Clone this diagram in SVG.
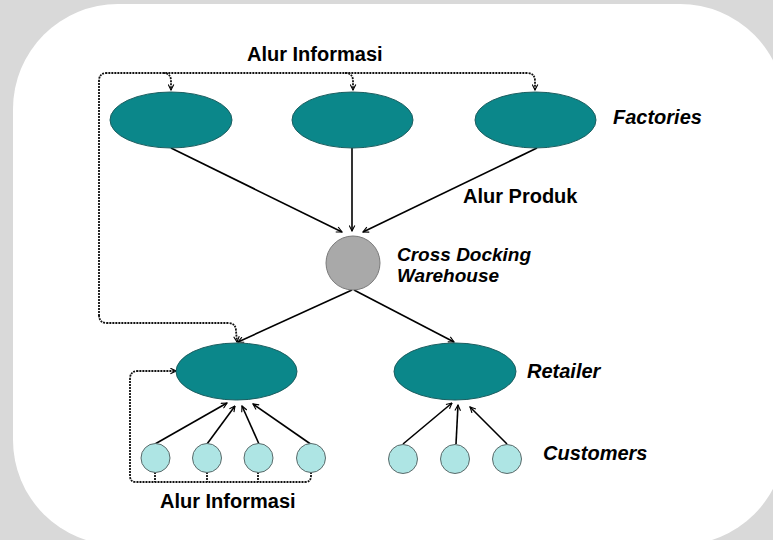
<svg xmlns="http://www.w3.org/2000/svg" width="773" height="540" viewBox="0 0 773 540">
  <defs>
    <marker id="arrow" viewBox="0 0 10 10" refX="9" refY="5" markerWidth="7" markerHeight="7" markerUnits="userSpaceOnUse" orient="auto">
      <path d="M1,1 L9,5 L1,9" fill="none" stroke="#000" stroke-width="1.6"/>
    </marker>
  </defs>
  <style>
    .lbl { font-family: "Liberation Sans", Arial, sans-serif; font-size: 20px; font-weight: bold; fill: #000; }
    .it { font-style: italic; }
    .tight { font-size: 19px; }
    .big { fill: #0b878a; stroke: #1c5e60; stroke-width: 1; }
    .hub { fill: #a9a9a9; stroke: #7a7a7a; stroke-width: 1; }
    .cust { fill: #aee5e4; stroke: #5a6a6a; stroke-width: 1; }
    .flow { fill: none; stroke: #000; stroke-width: 1.6; marker-end: url(#arrow); }
    .info { fill: none; stroke: #111; stroke-width: 1.8; stroke-dasharray: 2 1; }
    .info-a { marker-end: url(#arrow); }
  </style>

  <!-- page background -->
  <rect x="0" y="0" width="773" height="540" fill="#d9d9d9"/>
  <rect x="13" y="4" width="772" height="541" rx="105" ry="105" fill="#fff"/>

  <!-- connectors -->
  <g id="connectors">
    <!-- product flow -->
    <line class="flow" x1="171" y1="148" x2="342" y2="232"/>
    <line class="flow" x1="352" y1="148" x2="352" y2="231"/>
    <line class="flow" x1="537" y1="148" x2="363" y2="232"/>
    <line class="flow" x1="352" y1="290" x2="238" y2="342"/>
    <line class="flow" x1="354" y1="290" x2="454" y2="342"/>
    <!-- customers to retailer A -->
    <line class="flow" x1="155" y1="444" x2="227" y2="403"/>
    <line class="flow" x1="207" y1="444" x2="235" y2="406"/>
    <line class="flow" x1="259" y1="444" x2="242" y2="406"/>
    <line class="flow" x1="312" y1="445" x2="253" y2="404"/>
    <!-- customers to retailer B -->
    <line class="flow" x1="403" y1="444" x2="452" y2="403"/>
    <line class="flow" x1="456" y1="444" x2="458" y2="405"/>
    <line class="flow" x1="507" y1="444" x2="470" y2="407"/>

    <!-- information flow, top loop -->
    <path class="info info-a" d="M99,316 L99,81 Q99,73 107,73 L527,73 Q535,73 535,81 L535,90"/>
    <path class="info info-a" d="M163,73 Q171,73 171,81 L171,90"/>
    <path class="info info-a" d="M345,73 Q353,73 353,81 L353,90"/>
    <path class="info info-a" d="M99,315 Q99,323 107,323 L228,323 Q236,323 236,331 L237,342"/>

    <!-- information flow, bottom loop -->
    <path class="info info-a" d="M311,472 L311,476 Q311,482 305,482 L136,482 Q130,482 130,476 L130,379 Q130,371 138,371 L176,371"/>
    <path class="info" d="M155,472 L155,482"/>
    <path class="info" d="M207,472 L207,482"/>
    <path class="info" d="M258,472 L258,482"/>
  </g>

  <!-- factories -->
  <g id="factory-1"><ellipse class="big" cx="171" cy="120" rx="61" ry="28"/></g>
  <g id="factory-2"><ellipse class="big" cx="352.5" cy="120" rx="60.5" ry="28"/></g>
  <g id="factory-3"><ellipse class="big" cx="535.5" cy="120" rx="60.5" ry="28"/></g>

  <!-- cross docking warehouse -->
  <g id="warehouse"><circle class="hub" cx="353" cy="263" r="27"/></g>

  <!-- retailers -->
  <g id="retailer-1"><ellipse class="big" cx="236.5" cy="371.5" rx="60.5" ry="28.5"/></g>
  <g id="retailer-2"><ellipse class="big" cx="455" cy="371.5" rx="61" ry="28.5"/></g>

  <!-- customers -->
  <g id="customer-1"><circle class="cust" cx="155.5" cy="458" r="14.5"/></g>
  <g id="customer-2"><circle class="cust" cx="207" cy="458" r="14.5"/></g>
  <g id="customer-3"><circle class="cust" cx="258.5" cy="458" r="14.5"/></g>
  <g id="customer-4"><circle class="cust" cx="311" cy="458" r="14.5"/></g>
  <g id="customer-5"><circle class="cust" cx="403" cy="459" r="14.5"/></g>
  <g id="customer-6"><circle class="cust" cx="455" cy="459" r="14.5"/></g>
  <g id="customer-7"><circle class="cust" cx="507" cy="459" r="14.5"/></g>

  <!-- labels -->
  <g id="labels">
    <text class="lbl" x="247" y="61">Alur Informasi</text>
    <text class="lbl it" x="613" y="124">Factories</text>
    <text class="lbl" x="463" y="203">Alur Produk</text>
    <text class="lbl it tight" x="397" y="261">Cross Docking</text>
    <text class="lbl it tight" x="397" y="282">Warehouse</text>
    <text class="lbl it" x="527" y="378">Retailer</text>
    <text class="lbl it" x="543" y="460">Customers</text>
    <text class="lbl" x="160" y="508">Alur Informasi</text>
  </g>
</svg>
